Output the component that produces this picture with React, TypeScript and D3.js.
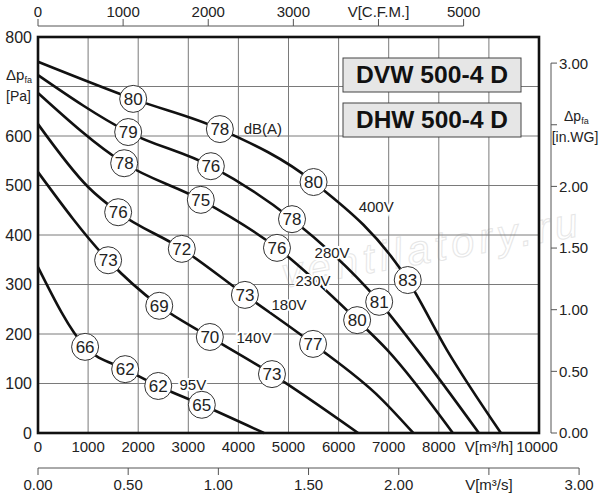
import React, { useRef, useEffect } from 'react';
import * as d3 from 'd3';

const FONT = '"Liberation Sans", Arial, Helvetica, sans-serif';

// fan curves: air flow [m3/h] vs pressure [Pa], one pair of arrays per voltage
const flow400 = [0, 1900, 3630, 5500, 7380, 8160, 9240];
const pres400 = [750, 675, 614, 507, 309, 168, 0];
const flow280 = [0, 1800, 3450, 5070, 6810, 7570, 8800];
const pres280 = [723, 608, 539, 432, 265, 168, 0];
const flow230 = [0, 1720, 3250, 4770, 6370, 6970, 8280];
const pres230 = [687, 545, 471, 374, 228, 168, 0];
const flow180 = [0, 1000, 1600, 2870, 4130, 5490, 6830, 7490];
const pres180 = [624, 497, 446, 372, 279, 180, 71, 0];
const flow140 = [0, 1400, 2420, 3430, 4670, 6390];
const pres140 = [527, 349, 257, 194, 119, 0];
const flow95 = [0, 940, 1740, 2400, 3270, 4510];
const pres95 = [335, 174, 129, 95, 57, 0];

// noise level circles: which curve point they sit on, and the dB(A) value
const markIdx400 = [1, 2, 3, 4];
const db400 = [80, 78, 80, 83];
const markIdx280 = [1, 2, 3, 4];
const db280 = [79, 76, 78, 81];
const markIdx230 = [1, 2, 3, 4];
const db230 = [78, 75, 76, 80];
const markIdx180 = [2, 3, 4, 5];
const db180 = [76, 72, 73, 77];
const markIdx140 = [1, 2, 3, 4];
const db140 = [73, 69, 70, 73];
const markIdx95 = [1, 2, 3, 4];
const db95 = [66, 62, 62, 65];

const voltages = ['400V', '280V', '230V', '180V', '140V', '95V'];
const voltLabelFlow = [6750, 5870, 5490, 5010, 4310, 3090];
const voltLabelPres = [457, 364, 307, 259, 192, 97];

// tick values
const paTicks = [0, 100, 200, 300, 400, 500, 600, 700, 800];
const flowTicks = [0, 1000, 2000, 3000, 4000, 5000, 6000, 7000, 8000, 9000, 10000];
const cfmTicks = [0, 1000, 2000, 3000, 4000, 5000];
const m3sTicks = [0, 0.5, 1, 1.5, 2, 2.5, 3];
const wgTicks = [0, 0.5, 1, 1.5, 2, 2.5, 3];

const models = ['DVW 500-4 D', 'DHW 500-4 D'];

const App = () => {
  const svgRef = useRef<SVGSVGElement | null>(null);

  useEffect(() => {
    if (!svgRef.current) return;
    const svg = d3.select(svgRef.current);
    svg.selectAll('*').remove();

    const x = d3.scaleLinear().domain([0, 10000]).range([38, 539]);
    const y = d3.scaleLinear().domain([0, 800]).range([433, 37]);
    const xCfm = d3.scaleLinear().domain([0, 10000 / 1.699]).range([38, 539]);
    const xM3s = d3.scaleLinear().domain([0, 10000 / 3600]).range([38, 539]);
    const yWg = d3.scaleLinear().domain([0, 800 / 249.09]).range([433, 37]);

    const txt = (sel: any, size: number) =>
      sel.attr('font-family', FONT).attr('font-size', size).attr('fill', '#222');

    // watermark
    txt(svg.append('text'), 42)
      .attr('transform', 'translate(432,262) rotate(-10)')
      .attr('text-anchor', 'middle')
      .attr('font-style', 'italic')
      .attr('fill', 'none')
      .attr('stroke', '#e6e6e6')
      .attr('stroke-width', 1)
      .attr('textLength', 300)
      .text('ventilatory.ru');

    // grid
    const grid = svg.append('g').attr('stroke', '#7a7a7a').attr('stroke-width', 1);
    grid.selectAll('.vg')
      .data(flowTicks.slice(1, -1))
      .enter().append('line')
      .attr('x1', d => x(d)).attr('x2', d => x(d))
      .attr('y1', y(800)).attr('y2', y(0));
    grid.selectAll('.hg')
      .data(paTicks.slice(1, -1))
      .enter().append('line')
      .attr('x1', x(0)).attr('x2', x(10000))
      .attr('y1', d => y(d)).attr('y2', d => y(d));

    // model boxes
    models.forEach((m, i) => {
      const top = [58, 103][i];
      svg.append('rect')
        .attr('x', 343).attr('y', top).attr('width', 178).attr('height', 34)
        .attr('fill', '#e6e6e6').attr('stroke', '#444').attr('stroke-width', 1);
      txt(svg.append('text'), 23)
        .attr('x', 432).attr('y', top + 25)
        .attr('text-anchor', 'middle')
        .attr('font-weight', 'bold')
        .attr('fill', '#111')
        .attr('textLength', 152)
        .attr('lengthAdjust', 'spacingAndGlyphs')
        .text(m);
    });

    // curves
    const curves = [
      { f: flow400, p: pres400, idx: markIdx400, db: db400 },
      { f: flow280, p: pres280, idx: markIdx280, db: db280 },
      { f: flow230, p: pres230, idx: markIdx230, db: db230 },
      { f: flow180, p: pres180, idx: markIdx180, db: db180 },
      { f: flow140, p: pres140, idx: markIdx140, db: db140 },
      { f: flow95, p: pres95, idx: markIdx95, db: db95 },
    ];
    const line = d3.line<number>()
      .x(d => d[0])
      .y(d => d[1])
      .curve(d3.curveMonotoneX);

    curves.forEach(c => {
      const pts: any = c.f.map((f, i) => [x(f), y(c.p[i])]);
      svg.append('path')
        .attr('d', line(pts))
        .attr('fill', 'none')
        .attr('stroke', '#111')
        .attr('stroke-width', 2.6);
    });

    // voltage labels (white halo breaks the curve under them)
    voltages.forEach((v, i) => {
      txt(svg.append('text'), 15)
        .attr('x', x(voltLabelFlow[i])).attr('y', y(voltLabelPres[i]))
        .attr('dy', '0.36em')
        .attr('text-anchor', 'middle')
        .attr('stroke', '#fff').attr('stroke-width', 4)
        .attr('paint-order', 'stroke')
        .text(v);
    });
    txt(svg.append('text'), 15)
      .attr('x', x(4490)).attr('y', y(614)).attr('dy', '0.36em')
      .attr('text-anchor', 'middle')
      .text('dB(A)');

    // noise circles
    curves.forEach(c => {
      const g = svg.append('g');
      const node = g.selectAll('.mark')
        .data(c.idx.map((k, j) => ({ f: c.f[k], p: c.p[k], db: c.db[j] })))
        .enter().append('g')
        .attr('transform', d => `translate(${x(d.f)},${y(d.p)})`);
      node.append('circle')
        .attr('r', 13.5)
        .attr('fill', '#fff')
        .attr('stroke', '#333')
        .attr('stroke-width', 1);
      txt(node.append('text'), 17)
        .attr('text-anchor', 'middle')
        .attr('dy', '0.36em')
        .text(d => d.db);
    });

    // frame
    svg.append('rect')
      .attr('x', x(0)).attr('y', y(800))
      .attr('width', x(10000) - x(0)).attr('height', y(0) - y(800))
      .attr('fill', 'none').attr('stroke', '#111').attr('stroke-width', 2.6);

    // left axis labels
    paTicks.filter(d => d !== 700).forEach(d => {
      txt(svg.append('text'), 16)
        .attr('x', 32).attr('y', y(d)).attr('dy', '0.36em')
        .attr('text-anchor', 'end')
        .text(d);
    });
    const lt = txt(svg.append('text'), 15).attr('x', 6).attr('y', 80);
    lt.append('tspan').text('Δp');
    lt.append('tspan').attr('font-size', 9).attr('dy', 3).text('fa');
    txt(svg.append('text'), 14).attr('x', 6).attr('y', 101).text('[Pa]');

    // bottom m3/h labels
    flowTicks.forEach(d => {
      txt(svg.append('text'), 15)
        .attr('x', d === 10000 ? x(d) - 2 : x(d)).attr('y', 452)
        .attr('text-anchor', 'middle')
        .text(d === 9000 ? 'V[m³/h]' : d);
    });

    // top CFM axis
    const top = svg.append('g').attr('stroke', '#555').attr('stroke-width', 1);
    top.append('line').attr('x1', xCfm(0)).attr('x2', xCfm(5000)).attr('y1', 26).attr('y2', 26);
    top.selectAll('.t').data(cfmTicks).enter().append('line')
      .attr('x1', d => xCfm(d)).attr('x2', d => xCfm(d)).attr('y1', 19).attr('y2', 26);
    cfmTicks.forEach(d => {
      txt(svg.append('text'), 15)
        .attr('x', xCfm(d)).attr('y', 17)
        .attr('text-anchor', 'middle')
        .text(d === 4000 ? 'V[C.F.M.]' : d);
    });

    // bottom m3/s axis
    const bot = svg.append('g').attr('stroke', '#555').attr('stroke-width', 1);
    bot.append('line').attr('x1', xM3s(0)).attr('x2', xM3s(3)).attr('y1', 468).attr('y2', 468);
    bot.selectAll('.t').data(m3sTicks).enter().append('line')
      .attr('x1', d => xM3s(d)).attr('x2', d => xM3s(d)).attr('y1', 468).attr('y2', 475);
    m3sTicks.forEach(d => {
      txt(svg.append('text'), 15)
        .attr('x', xM3s(d)).attr('y', 490)
        .attr('text-anchor', 'middle')
        .text(d === 2.5 ? 'V[m³/s]' : d3.format('.2f')(d));
    });

    // right in.WG axis
    const rgt = svg.append('g').attr('stroke', '#555').attr('stroke-width', 1);
    rgt.append('line').attr('x1', 551).attr('x2', 551).attr('y1', yWg(3)).attr('y2', yWg(0));
    rgt.selectAll('.t').data(wgTicks).enter().append('line')
      .attr('x1', 551).attr('x2', 557).attr('y1', d => yWg(d)).attr('y2', d => yWg(d));
    wgTicks.filter(d => d !== 2.5).forEach(d => {
      txt(svg.append('text'), 15)
        .attr('x', 559).attr('y', yWg(d)).attr('dy', '0.36em')
        .text(d3.format('.2f')(d));
    });
    const rt = txt(svg.append('text'), 14).attr('x', 564).attr('y', 121);
    rt.append('tspan').text('Δp');
    rt.append('tspan').attr('font-size', 9).attr('dy', 3).text('fa');
    txt(svg.append('text'), 14)
      .attr('x', 575).attr('y', 142).attr('text-anchor', 'middle')
      .text('[in.WG]');
  }, []);

  return (
    <svg
      ref={svgRef}
      width={600}
      height={500}
      style={{ position: 'absolute', left: 0, top: 0, background: '#fff' }}
    />
  );
};

export default App;
